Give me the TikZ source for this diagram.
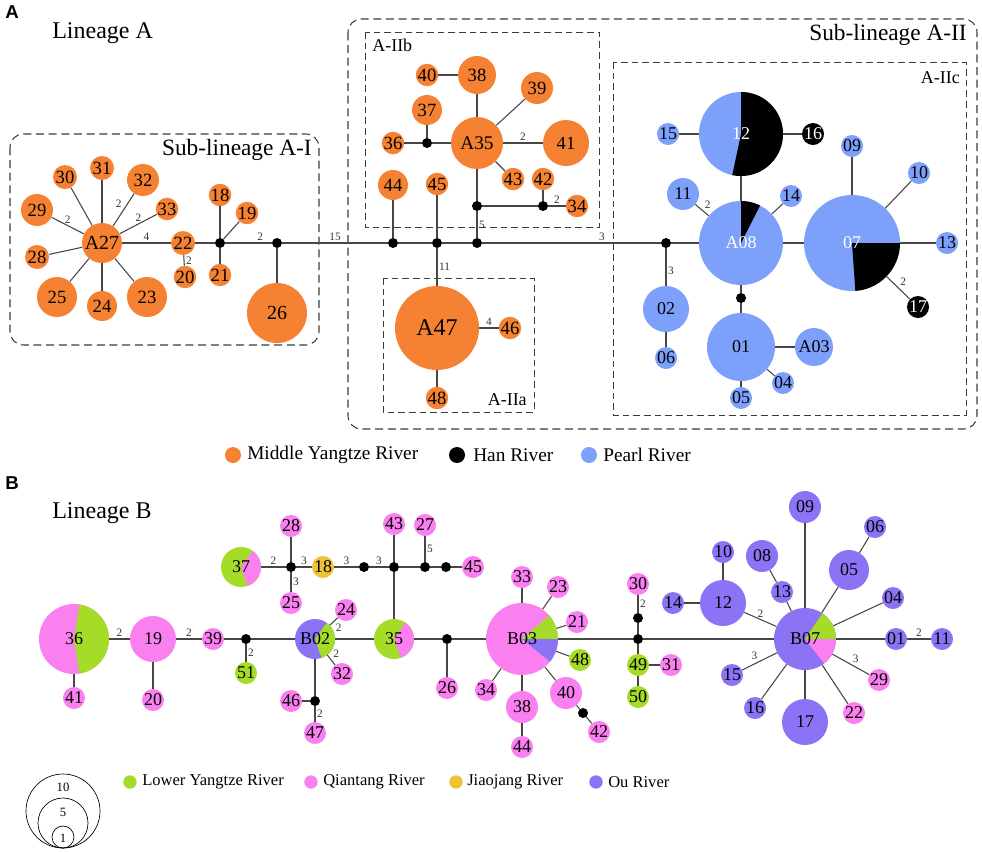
\documentclass[tikz,border=0pt]{standalone}
\usepackage{fontspec}
\setmainfont{Liberation Serif}
\newfontfamily\lsans{Liberation Sans}
\definecolor{myr}{RGB}{245,130,50}
\definecolor{prl}{RGB}{125,160,250}
\definecolor{lyr}{RGB}{165,220,40}
\definecolor{qtr}{RGB}{250,128,240}
\definecolor{jjr}{RGB}{240,195,55}
\definecolor{our}{RGB}{140,115,245}
\definecolor{linec}{RGB}{70,70,70}
\definecolor{boxc}{RGB}{60,60,60}
\newcommand\wdg[3]{\fill[#3] (path picture bounding box.center) -- +(#1:60pt) arc[start angle=#1,end angle=#2,radius=60pt] -- cycle;}
\begin{document}
\begin{tikzpicture}[x=0.75pt,y=-0.75pt,
 hap/.style 2 args={circle, fill=#1, minimum size=#2*1.5pt, inner sep=0pt, font=\fontsize{13.5}{14}\selectfont},
 hapo/.style={hap={myr}{#1}, font=\fontsize{14}{14}\selectfont},
 jn/.style={circle, fill=black, minimum size=7.5pt, inner sep=0pt},
 lk/.style={draw=linec, line width=0.8pt},
 lab/.style={font=\fontsize{8.5}{9}\selectfont, inner sep=1.2pt, text=black!80},
 sbox/.style={draw=boxc, line width=0.8pt, dash pattern=on 6pt off 3.5pt, rounded corners=10pt},
 gbox/.style={draw=boxc, line width=0.7pt, dash pattern=on 5pt off 3pt},
 ttl/.style={font=\fontsize{18}{20}\selectfont, inner sep=0pt},
 sttl/.style={font=\fontsize{17.5}{20}\selectfont, inner sep=0pt},
 gttl/.style={font=\fontsize{13.5}{15}\selectfont, inner sep=0pt},
 leg/.style={font=\fontsize{14.5}{16}\selectfont, anchor=west, inner sep=0pt},
 legb/.style={font=\fontsize{12.4}{14}\selectfont, anchor=west, inner sep=0pt},
 legdot/.style={circle, fill=#1, minimum size=12pt, inner sep=0pt},
 legdotb/.style={circle, fill=#1, minimum size=10pt, inner sep=0pt},
 pl/.style={font=\lsans\bfseries\fontsize{14}{14}\selectfont, inner sep=0pt},
 scl/.style={circle, draw=black, line width=0.5pt, minimum size=#1*1.5pt, inner sep=0pt},
 scn/.style={font=\fontsize{9.5}{10}\selectfont, inner sep=0pt}
]
\useasboundingbox (0,0) rectangle (982,851);

% ---------- Panel A boxes and titles ----------
\draw[sbox] (10,134) rectangle (319,345);
\draw[sbox] (348,19) rectangle (977,429);
\draw[gbox] (365,32) rectangle (599,227);
\draw[gbox] (383,278) rectangle (534,412);
\draw[gbox] (613,62) rectangle (966,415);
\node[pl] (PA) at (12,12) {A};
\node[ttl, anchor=west] (LA) at (52,33) {Lineage A};
\node[sttl, anchor=east] (SA1) at (312,150) {Sub-lineage A-I};
\node[sttl, anchor=east] (SA2) at (967,35) {Sub-lineage A-II};
\node[gttl, anchor=west] (GB) at (372,45) {A-IIb};
\node[gttl, anchor=east] (GA) at (527,400) {A-IIa};
\node[gttl, anchor=east] (GC) at (960,78) {A-IIc};

% ---------- Sub-lineage A-I ----------
\node[hapo=20, font=\fontsize{15}{15}\selectfont] (A27) at (102,243) {A27};
\node[hapo=12] (a30) at (65,177) {30};
\node[hapo=12] (a31) at (102,168) {31};
\node[hapo=16] (a32) at (143,180) {32};
\node[hapo=11] (a33) at (167,209) {33};
\node[hapo=16] (a29) at (37,210) {29};
\node[hapo=12] (a28) at (37,257) {28};
\node[hapo=20] (a25) at (57,297) {25};
\node[hapo=15] (a24) at (102,306) {24};
\node[hapo=20] (a23) at (147,297) {23};
\node[hapo=12] (a22) at (183,243) {22};
\node[hapo=11] (a20) at (185,277) {20};
\node[jn] (j1) at (220,243) {};
\node[hapo=11] (a18) at (220,195) {18};
\node[hapo=11] (a19) at (247,213) {19};
\node[hapo=11] (a21) at (220,275) {21};
\node[jn] (j2) at (277,243) {};
\node[hapo=30, font=\fontsize{15}{15}\selectfont] (a26) at (277,313) {26};

% ---------- Sub-lineage A-II (a, b) ----------
\node[jn] (j3) at (393,243) {};
\node[jn] (j4) at (437,243) {};
\node[jn] (j5) at (477,243) {};
\node[hapo=15] (a44) at (393,185) {44};
\node[hapo=11] (a45) at (437,184) {45};
\node[hapo=42, font=\fontsize{18}{18}\selectfont] (A47) at (437,328) {A47};
\node[hapo=11] (a46) at (510,328) {46};
\node[hapo=11] (a48) at (437,398) {48};
\node[jn] (jb) at (477,206) {};
\node[jn] (jc) at (543,206) {};
\node[hapo=10] (a42) at (543,179) {42};
\node[hapo=11] (a34) at (577,206) {34};
\node[hapo=26, font=\fontsize{14.5}{15}\selectfont] (A35) at (477,143) {A35};
\node[hapo=10] (a43) at (513,179) {43};
\node[hapo=23] (a41) at (566,143) {41};
\node[hapo=16] (a39) at (537,88) {39};
\node[hapo=19] (a38) at (477,75) {38};
\node[hapo=10] (a40) at (427,75) {40};
\node[jn] (j36) at (427,143) {};
\node[hapo=15] (a37) at (427,110) {37};
\node[hapo=11] (a36) at (393,143) {36};

% ---------- A-IIc ----------
\node[jn] (jA) at (666,243) {};
\node[hap={prl}{23}] (p02) at (666,309) {02};
\node[hap={prl}{11}] (p06) at (666,358) {06};
\node[hap={prl}{42}, path picture={\wdg{63}{90}{black}}, text=white] (A08) at (741,243) {A08};
\node[hap={prl}{16}] (p11) at (683,194) {11};
\node[hap={prl}{11}] (p14) at (791,196) {14};
\node[hap={prl}{42}, path picture={\wdg{-102}{90}{black}}, text=white] (p12) at (741,134) {12};
\node[hap={prl}{11}] (p15) at (668,134) {15};
\node[hap={black}{11}, text=white] (h16) at (813,134) {16};
\node[jn] (jd) at (741,298) {};
\node[hap={prl}{34}] (p01) at (741,347) {01};
\node[hap={prl}{19}] (A03) at (814,347) {A03};
\node[hap={prl}{11}] (p04) at (783,383) {04};
\node[hap={prl}{11}] (p05) at (741,398) {05};
\node[hap={prl}{48}, path picture={\wdg{-86}{0}{black}}, text=white] (p07) at (852,243) {07};
\node[hap={prl}{11}] (p09) at (852,146) {09};
\node[hap={prl}{11}] (p10) at (919,173) {10};
\node[hap={prl}{11}] (p13) at (947,243) {13};
\node[hap={black}{11}, text=white] (h17) at (918,307) {17};

% ---------- Panel A edges ----------
\draw[lk] (A27) -- (a30);
\draw[lk] (A27) -- (a31);
\draw[lk] (A27) -- node[lab, above left]{2} (a32);
\draw[lk] (A27) -- node[lab, above]{2} (a33);
\draw[lk] (A27) -- node[lab, above]{2} (a29);
\draw[lk] (A27) -- (a28);
\draw[lk] (A27) -- (a25);
\draw[lk] (A27) -- (a24);
\draw[lk] (A27) -- (a23);
\draw[lk] (A27) -- node[lab, above]{4} (a22);
\draw[lk] (a22) -- node[lab, right]{2} (a20);
\draw[lk] (a22) -- (j1);
\draw[lk] (j1) -- (a18);
\draw[lk] (j1) -- (a19);
\draw[lk] (j1) -- (a21);
\draw[lk] (j1) -- node[lab, above, pos=0.75]{2} (j2);
\draw[lk] (j2) -- (a26);
\draw[lk] (j2) -- node[lab, above, pos=0.5]{15} (j3);
\draw[lk] (j3) -- (a44);
\draw[lk] (j3) -- (j4);
\draw[lk] (j4) -- (a45);
\draw[lk] (j4) -- node[lab, right]{11} (A47);
\draw[lk] (A47) -- node[lab, above]{4} (a46);
\draw[lk] (A47) -- (a48);
\draw[lk] (j4) -- (j5);
\draw[lk] (j5) -- node[lab, right]{5} (jb);
\draw[lk] (jb) -- (A35);
\draw[lk] (jb) -- (jc);
\draw[lk] (jc) -- (a42);
\draw[lk] (jc) -- node[lab, above]{2} (a34);
\draw[lk] (A35) -- (a38);
\draw[lk] (a38) -- (a40);
\draw[lk] (A35) -- (a39);
\draw[lk] (A35) -- node[lab, above]{2} (a41);
\draw[lk] (A35) -- (a43);
\draw[lk] (A35) -- (j36);
\draw[lk] (j36) -- (a37);
\draw[lk] (j36) -- (a36);
\draw[lk] (j5) -- node[lab, above, pos=0.67]{3} (jA);
\draw[lk] (jA) -- node[lab, right, pos=0.6]{3} (p02);
\draw[lk] (p02) -- (p06);
\draw[lk] (jA) -- (A08);
\draw[lk] (A08) -- node[lab, above right, pos=0.45]{2} (p11);
\draw[lk] (A08) -- (p14);
\draw[lk] (A08) -- (p12);
\draw[lk] (p12) -- (p15);
\draw[lk] (p12) -- (h16);
\draw[lk] (A08) -- (jd);
\draw[lk] (jd) -- (p01);
\draw[lk] (p01) -- (A03);
\draw[lk] (p01) -- (p04);
\draw[lk] (p01) -- (p05);
\draw[lk] (A08) -- (p07);
\draw[lk] (p07) -- (p09);
\draw[lk] (p07) -- (p10);
\draw[lk] (p07) -- (p13);
\draw[lk] (p07) -- node[lab, above right]{2} (h17);

% ---------- Legend A ----------
\node[legdot=myr] (LD1) at (233,455) {};
\node[leg] (LT1) at (247,455) {Middle Yangtze River};
\node[legdot=black] (LD2) at (457,455) {};
\node[leg] (LT2) at (473,455) {Han River};
\node[legdot=prl] (LD3) at (589,455) {};
\node[leg] (LT3) at (603,455) {Pearl River};

% ---------- Panel B ----------
\node[pl] (PB) at (12,483) {B};
\node[ttl, anchor=west] (LB) at (52,513) {Lineage B};

\node[hap={qtr}{35}, path picture={\wdg{-81}{81}{lyr}}] (b36) at (74,639) {36};
\node[hap={qtr}{11}] (b41) at (74,698) {41};
\node[hap={qtr}{23}] (b19) at (153,639) {19};
\node[hap={qtr}{11}] (b20) at (153,700) {20};
\node[hap={qtr}{11}] (b39) at (213,639) {39};
\node[jn] (k39) at (246,639) {};
\node[hap={lyr}{11}] (b51) at (246,673) {51};
\node[hap={our}{20}, path picture={\wdg{-71}{54}{lyr}}] (B02) at (315,639) {B02};
\node[hap={qtr}{11}] (b24) at (346,610) {24};
\node[hap={qtr}{11}] (b32) at (342,674) {32};
\node[jn] (kB) at (315,701) {};
\node[hap={qtr}{11}] (b46) at (291,701) {46};
\node[hap={qtr}{11}] (b47) at (315,733) {47};
\node[hap={lyr}{20}, path picture={\wdg{-70}{55}{qtr}}] (b35) at (394,639) {35};
\node[jn] (k43) at (394,567) {};
\node[hap={qtr}{11}] (b43) at (394,524) {43};
\node[jn] (ka) at (364,567) {};
\node[hap={jjr}{11}] (b18) at (323,567) {18};
\node[jn] (k37) at (291,567) {};
\node[hap={lyr}{20}, path picture={\wdg{-71}{54}{qtr}}] (b37) at (241,567) {37};
\node[hap={qtr}{11}] (b28) at (291,526) {28};
\node[hap={qtr}{11}] (b25) at (291,603) {25};
\node[jn] (k27) at (425,567) {};
\node[hap={qtr}{11}] (b27) at (425,525) {27};
\node[jn] (k45) at (446,567) {};
\node[hap={qtr}{11}] (b45) at (473,567) {45};
\node[jn] (k26) at (447,639) {};
\node[hap={qtr}{11}] (b26) at (447,688) {26};
\node[hap={qtr}{36}, path picture={\wdg{0}{41}{lyr}\wdg{-39}{0}{our}}] (B03) at (522,639) {B03};
\node[hap={qtr}{11}] (b33) at (522,577) {33};
\node[hap={qtr}{11}] (b23) at (558,587) {23};
\node[hap={qtr}{11}] (b21) at (577,622) {21};
\node[hap={lyr}{11}] (b48) at (580,660) {48};
\node[hap={qtr}{16}] (b40) at (566,693) {40};
\node[jn] (k42) at (583,713) {};
\node[hap={qtr}{11}] (b42) at (599,732) {42};
\node[hap={qtr}{16}] (b38) at (522,707) {38};
\node[hap={qtr}{11}] (b44) at (522,747) {44};
\node[hap={qtr}{11}] (b34) at (486,690) {34};
\node[jn] (k49) at (638,639) {};
\node[jn] (k30) at (638,618) {};
\node[hap={qtr}{11}] (b30) at (638,584) {30};
\node[hap={lyr}{11}] (b49) at (638,665) {49};
\node[hap={qtr}{11}] (b31) at (671,665) {31};
\node[hap={lyr}{11}] (b50) at (638,697) {50};
\node[hap={our}{31}, path picture={\wdg{0}{56}{lyr}\wdg{-52}{0}{qtr}}] (B07) at (805,639) {B07};
\node[hap={our}{16}] (o09) at (805,507) {09};
\node[hap={our}{11}] (o06) at (875,527) {06};
\node[hap={our}{20}] (o05) at (849,570) {05};
\node[hap={our}{16}] (o08) at (762,556) {08};
\node[hap={our}{11}] (o13) at (782,592) {13};
\node[hap={our}{11}] (o10) at (723,552) {10};
\node[hap={our}{23}] (o12) at (723,603) {12};
\node[hap={our}{11}] (o14) at (673,603) {14};
\node[hap={our}{11}] (o04) at (893,598) {04};
\node[hap={our}{11}] (o01) at (896,639) {01};
\node[hap={our}{11}] (o11) at (942,639) {11};
\node[hap={our}{11}] (o15) at (732,675) {15};
\node[hap={our}{11}] (o16) at (755,708) {16};
\node[hap={our}{23}] (o17) at (805,722) {17};
\node[hap={qtr}{11}] (o22) at (854,713) {22};
\node[hap={qtr}{11}] (o29) at (879,680) {29};

% ---------- Panel B edges ----------
\draw[lk] (b36) -- (b41);
\draw[lk] (b36) -- node[lab, above]{2} (b19);
\draw[lk] (b19) -- (b20);
\draw[lk] (b19) -- node[lab, above]{2} (b39);
\draw[lk] (b39) -- (k39);
\draw[lk] (k39) -- node[lab, right]{2} (b51);
\draw[lk] (k39) -- (B02);
\draw[lk] (B02) -- node[lab, below right]{2} (b24);
\draw[lk] (B02) -- node[lab, above right]{2} (b32);
\draw[lk] (B02) -- (kB);
\draw[lk] (kB) -- (b46);
\draw[lk] (kB) -- node[lab, right]{2} (b47);
\draw[lk] (B02) -- (b35);
\draw[lk] (b35) -- (k43);
\draw[lk] (k43) -- (b43);
\draw[lk] (k43) -- node[lab, above]{3} (ka);
\draw[lk] (ka) -- node[lab, above]{3} (b18);
\draw[lk] (b18) -- node[lab, above]{3} (k37);
\draw[lk] (k37) -- node[lab, above]{2} (b37);
\draw[lk] (k37) -- (b28);
\draw[lk] (k37) -- node[lab, right]{3} (b25);
\draw[lk] (k43) -- (k27);
\draw[lk] (k27) -- node[lab, right]{5} (b27);
\draw[lk] (k27) -- (k45);
\draw[lk] (k45) -- (b45);
\draw[lk] (b35) -- (k26);
\draw[lk] (k26) -- (b26);
\draw[lk] (k26) -- (B03);
\draw[lk] (B03) -- (b33);
\draw[lk] (B03) -- (b23);
\draw[lk] (B03) -- (b21);
\draw[lk] (B03) -- (b48);
\draw[lk] (B03) -- (b40);
\draw[lk] (b40) -- (k42);
\draw[lk] (k42) -- (b42);
\draw[lk] (B03) -- (b38);
\draw[lk] (b38) -- (b44);
\draw[lk] (B03) -- (b34);
\draw[lk] (B03) -- (k49);
\draw[lk] (k49) -- (k30);
\draw[lk] (k30) -- node[lab, right]{2} (b30);
\draw[lk] (k49) -- (b49);
\draw[lk] (b49) -- (b31);
\draw[lk] (b49) -- (b50);
\draw[lk] (k49) -- (B07);
\draw[lk] (B07) -- node[lab, above]{2} (o12);
\draw[lk] (o12) -- (o10);
\draw[lk] (o12) -- (o14);
\draw[lk] (B07) -- (o13);
\draw[lk] (o13) -- (o08);
\draw[lk] (B07) -- (o09);
\draw[lk] (B07) -- (o05);
\draw[lk] (o05) -- (o06);
\draw[lk] (B07) -- (o04);
\draw[lk] (B07) -- (o01);
\draw[lk] (o01) -- node[lab, above]{2} (o11);
\draw[lk] (B07) -- node[lab, above right]{3} (o29);
\draw[lk] (B07) -- (o22);
\draw[lk] (B07) -- (o17);
\draw[lk] (B07) -- (o16);
\draw[lk] (B07) -- node[lab, above left]{3} (o15);

% ---------- Legend B ----------
\node[legdotb=lyr] (LE1) at (130,782) {};
\node[legb] (LU1) at (142,782) {Lower Yangtze River};
\node[legdotb=qtr] (LE2) at (311,782) {};
\node[legb] (LU2) at (323,782) {Qiantang River};
\node[legdotb=jjr] (LE3) at (456,782) {};
\node[legb] (LU3) at (467,782) {Jiaojang River};
\node[legdotb=our] (LE4) at (596,782) {};
\node[legb] (LU4) at (608,782) {Ou River};

% ---------- size scale ----------
\node[scl=37] (S10) at (63,811) {};
\node[scl=25] (S5) at (63,823) {};
\node[scl=11] (S1) at (63,837) {};
\node[scn] (T10) at (63,787) {10};
\node[scn] (T5) at (63,812) {5};
\node[scn] (T1) at (63,838) {1};
\end{tikzpicture}
\end{document}
